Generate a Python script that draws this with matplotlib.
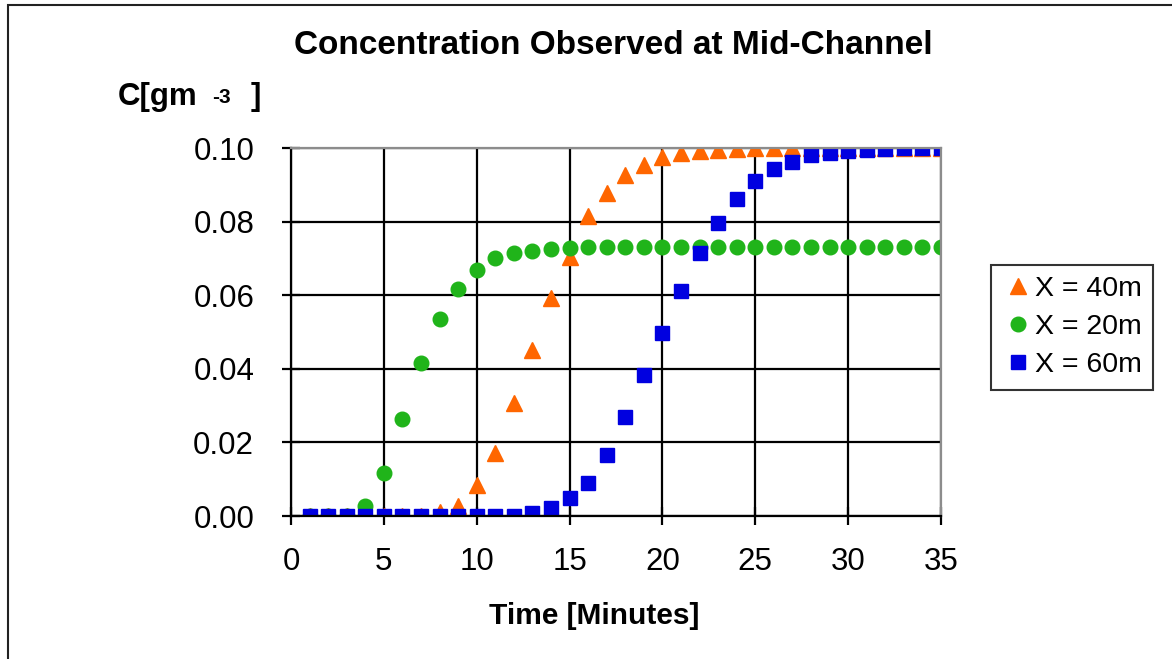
import matplotlib
matplotlib.use("Agg")
import matplotlib.pyplot as plt
from matplotlib.patches import Rectangle

plt.rcParams['font.family'] = ['Liberation Sans', 'DejaVu Sans']

# time in minutes
minutes = [1, 2, 3, 4, 5, 6, 7, 8, 9, 10, 11, 12, 13, 14, 15, 16, 17, 18,
           19, 20, 21, 22, 23, 24, 25, 26, 27, 28, 29, 30, 31, 32, 33, 34, 35]

# concentrations
c_40m = [0, 0, 0, 0, 0, 0, 0, 0.001, 0.0027, 0.0083, 0.0172, 0.0307, 0.0450,
         0.0592, 0.0705, 0.0815, 0.0877, 0.0927, 0.0954, 0.0975, 0.0986,
         0.0993, 0.0994, 0.0998, 0.0999, 0.1, 0.1, 0.1, 0.1, 0.1, 0.1, 0.1,
         0.1, 0.1, 0.1]
c_20m = [0, 0, 0, 0.0027, 0.0116, 0.0263, 0.0415, 0.0535, 0.0617, 0.0668,
         0.0701, 0.0714, 0.0720, 0.0726, 0.0728, 0.0730, 0.0731, 0.0732,
         0.0732, 0.0732, 0.0732, 0.0732, 0.0732, 0.0732, 0.0732, 0.0732,
         0.0732, 0.0732, 0.0732, 0.0732, 0.0732, 0.0732, 0.0732, 0.0732, 0.0732]
c_60m = [0, 0, 0, 0, 0, 0, 0, 0, 0, 0, 0, 0, 0.0007, 0.0021, 0.0048, 0.0091,
         0.0166, 0.0268, 0.0383, 0.0498, 0.0611, 0.0714, 0.0795, 0.0861,
         0.0910, 0.0943, 0.0963, 0.0981, 0.0987, 0.0993, 0.0994, 0.0998,
         0.0999, 0.1, 0.1]

x_ticks = [0, 5, 10, 15, 20, 25, 30, 35]
y_ticks = [0.00, 0.02, 0.04, 0.06, 0.08, 0.10]

W, H = 1172, 659
fig = plt.figure(figsize=(W / 100, H / 100), dpi=100)
ax = fig.add_axes([291 / W, 1 - 516 / H, 650 / W, 368 / H])

ax.plot(minutes, c_40m, ls='none', marker='^', ms=11, color='#ff6600',
        label='X = 40m')
ax.plot(minutes, c_20m, ls='none', marker='o', ms=10.5, color='#20b41a',
        label='X = 20m')
ax.plot(minutes, c_60m, ls='none', marker='s', ms=10, color='#0000e0',
        label='X = 60m')

ax.set_xlim(0, 35)
ax.set_ylim(0, 0.10)
ax.set_xticks(x_ticks)
ax.set_yticks(y_ticks)
ax.set_yticklabels(['%.2f' % v for v in y_ticks])
ax.grid(True, color='black', lw=1.6)
ax.set_axisbelow(True)
ax.tick_params(direction='inout', length=13, width=1.6, labelsize=22.5,
               color='black')
ax.tick_params(axis='y', pad=20)
ax.tick_params(axis='x', pad=16)

for s in ['left', 'bottom']:
    ax.spines[s].set_color('black')
    ax.spines[s].set_linewidth(1.6)
for s in ['top', 'right']:
    ax.spines[s].set_color('#8c8c8c')
    ax.spines[s].set_linewidth(1.6)

fig.text(613 / W, 1 - 45 / H, 'Concentration Observed at Mid-Channel',
         ha='center', va='center', fontsize=24, fontweight='bold')
fig.text(594 / W, 1 - 616 / H, 'Time [Minutes]', ha='center', va='center',
         fontsize=21.5, fontweight='bold')

# y axis label with raised exponent
fig.text(118 / W, 1 - 105 / H, 'C[gm', ha='left', va='baseline',
         fontsize=22.5, fontweight='bold')
fig.text(212 / W, 1 - 103 / H, '-3', ha='left', va='baseline',
         fontsize=15, fontweight='bold')
fig.text(251 / W, 1 - 105 / H, ']', ha='left', va='baseline',
         fontsize=22.5, fontweight='bold')

leg = ax.legend(loc='upper left', bbox_to_anchor=(991 / W, 1 - 265 / H),
                bbox_transform=fig.transFigure, fontsize=20.5, frameon=True,
                fancybox=False, edgecolor='black', handletextpad=0.05,
                handlelength=1.1, labelspacing=0.42, borderpad=0.4,
                borderaxespad=0, markerscale=1.0)
leg.get_frame().set_linewidth(1.5)

# outer chart border
fig.patches.append(Rectangle((8 / W, -0.1), 1.2, 1 - 5 / H + 0.1,
                             transform=fig.transFigure, fill=False,
                             edgecolor='#222222', lw=1.5))

fig.savefig('out.png', dpi=100)
